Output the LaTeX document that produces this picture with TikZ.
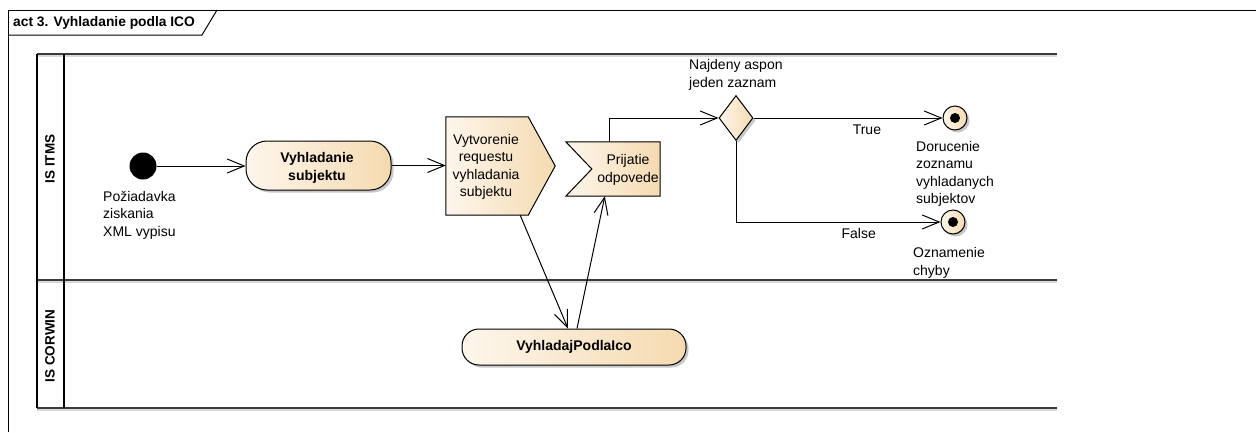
\documentclass[tikz,border=0pt]{standalone}
\usepackage{fontspec}
\setmainfont{Liberation Sans}
\usetikzlibrary{arrows.meta,shapes.geometric,shadows,calc}
\definecolor{fillL}{HTML}{FDF6EC}
\definecolor{fillR}{HTML}{F5DAB0}
\definecolor{laneC}{HTML}{3A3A3A}
\begin{document}
\begin{tikzpicture}[x=1pt,y=-1pt,
  txt/.style={font=\fontsize{14}{17.5}\selectfont, align=left, inner sep=0pt},
  btxt/.style={font=\bfseries\fontsize{14}{18}\selectfont},
  shd/.style={drop shadow={shadow xshift=2.5pt,shadow yshift=-2.5pt,fill=black!22,opacity=1}},
  action/.style={rectangle, draw=black, line width=1pt, left color=fillL, right color=fillR, btxt, align=center, inner sep=0pt, shd},
  flow/.style={draw, line width=1pt, -{Straight Barb[length=17pt,width=14pt]}},
  laneline/.style={line width=2pt, draw=laneC},
  finalnode/.style={circle, draw=black, line width=1pt, left color=fillL, right color=fillR, minimum size=24pt, inner sep=0pt, shd,
    path picture={\fill[black] (path picture bounding box.center) circle (5pt);}},
  shapebox/.style={rectangle, inner sep=0pt},
]
\useasboundingbox (0,0) rectangle (1256,432);

% outer frame
\draw[line width=1pt] (8,432) -- (8,10) -- (1256,10);
\draw[line width=1pt] (8,35) -- (202,35) -- (217,10);
\node[anchor=west, inner sep=0pt, font=\bfseries\fontsize{13.8}{15}\selectfont] (title) at (13,23) {act 3. Vyhladanie podla ICO};

% swimlanes
\draw[line width=1.5pt, black!15] (37,56) -- (1057,56) (37,282) -- (1057,282) (37,410) -- (1057,410);
\draw[laneline] (37,54) -- (1057,54);
\draw[laneline] (37,280) -- (1057,280);
\draw[laneline] (37,408) -- (1057,408);
\draw[line width=1.2pt] (37,54) -- (37,408);
\draw[line width=1.2pt] (64,54) -- (64,408);
\node[rotate=90, inner sep=0pt, font=\bfseries\fontsize{13.5}{15}\selectfont] (laneA) at (50,159) {IS ITMS};
\node[rotate=90, inner sep=0pt, font=\bfseries\fontsize{13.5}{15}\selectfont] (laneB) at (50,346) {IS CORWIN};

% nodes
\node[circle, fill=black, minimum size=27pt, inner sep=0pt] (init) at (143,166) {};
\node[txt, anchor=west] (initL) at (103,215) {Požiadavka\\ziskania\\XML vypisu};

\node[action, minimum width=145pt, minimum height=49pt, rounded corners=21pt] (va) at (318.5,165.5) {};
\node[btxt, align=center, inner sep=0pt] (vaT) at (317,168) {Vyhladanie\\subjektu};

% send signal
\node[shapebox, minimum width=82pt, minimum height=98pt] (send) at (487,166) {};
\fill[black!22, shift={(2.5,2.5)}] (send.north west) -- (send.north east) -- ($(send.east)+(27,0)$) -- (send.south east) -- (send.south west) -- cycle;
\path[draw=black, line width=1pt, left color=fillL, right color=fillR] (send.north west) -- (send.north east) -- ($(send.east)+(27,0)$) -- (send.south east) -- (send.south west) -- cycle;
\node[txt, align=center] (sendT) at (486,167) {Vytvorenie\\requestu\\vyhladania\\subjektu};

% accept event
\node[shapebox, minimum width=68pt, minimum height=54pt] (accept) at (626,169) {};
\fill[black!22, shift={(2.5,2.5)}] (accept.north east) -- ($(accept.north west)+(-26,0)$) -- (accept.west) -- ($(accept.south west)+(-26,0)$) -- (accept.south east) -- cycle;
\path[draw=black, line width=1pt, left color=fillL, right color=fillR] (accept.north east) -- ($(accept.north west)+(-26,0)$) -- (accept.west) -- ($(accept.south west)+(-26,0)$) -- (accept.south east) -- cycle;
\node[txt, align=center] (acceptT) at (628,170) {Prijatie\\odpovede};

\node[action, minimum width=224pt, minimum height=36pt, rounded corners=17pt] (vpi) at (574,347) {VyhladajPodlaIco};

\node[diamond, draw=black, line width=1pt, minimum width=34pt, minimum height=45pt, inner sep=0pt, left color=fillL, right color=fillR, shd] (dec) at (736,118) {};
\node[txt, anchor=west] (decL) at (689,75) {Najdeny aspon\\jeden zaznam};

\node[finalnode] (fin1) at (955,118) {};
\node[txt, anchor=west] (fin1L) at (916,174) {Dorucenie\\zoznamu\\vyhladanych\\subjektov};
\node[finalnode] (fin2) at (953,222) {};
\node[txt, anchor=west] (fin2L) at (913,263) {Oznamenie\\chyby};

% connectors
\draw[flow] (init.east) -- (init.east -| va.west);
\draw[flow] (va.east) -- (va.east -| send.west);
\draw[flow] ($(send.south east)+(-8,0)$) -- ($(vpi.north)+(-6,0)$);
\draw[flow] ($(vpi.north)+(3,0)$) -- ($(accept.south west)+(13,0)$);
\draw[flow] ($(accept.north west)+(18,0)$) |- (dec.west);
\draw[flow] (dec.east) -- (fin1.west) node[txt, pos=0.6, below=6pt] (tL) {True};
\draw[flow] (dec.south) |- (fin2.west) node[txt, pos=0.80, below=6pt] (fL) {False};
\end{tikzpicture}
\end{document}
